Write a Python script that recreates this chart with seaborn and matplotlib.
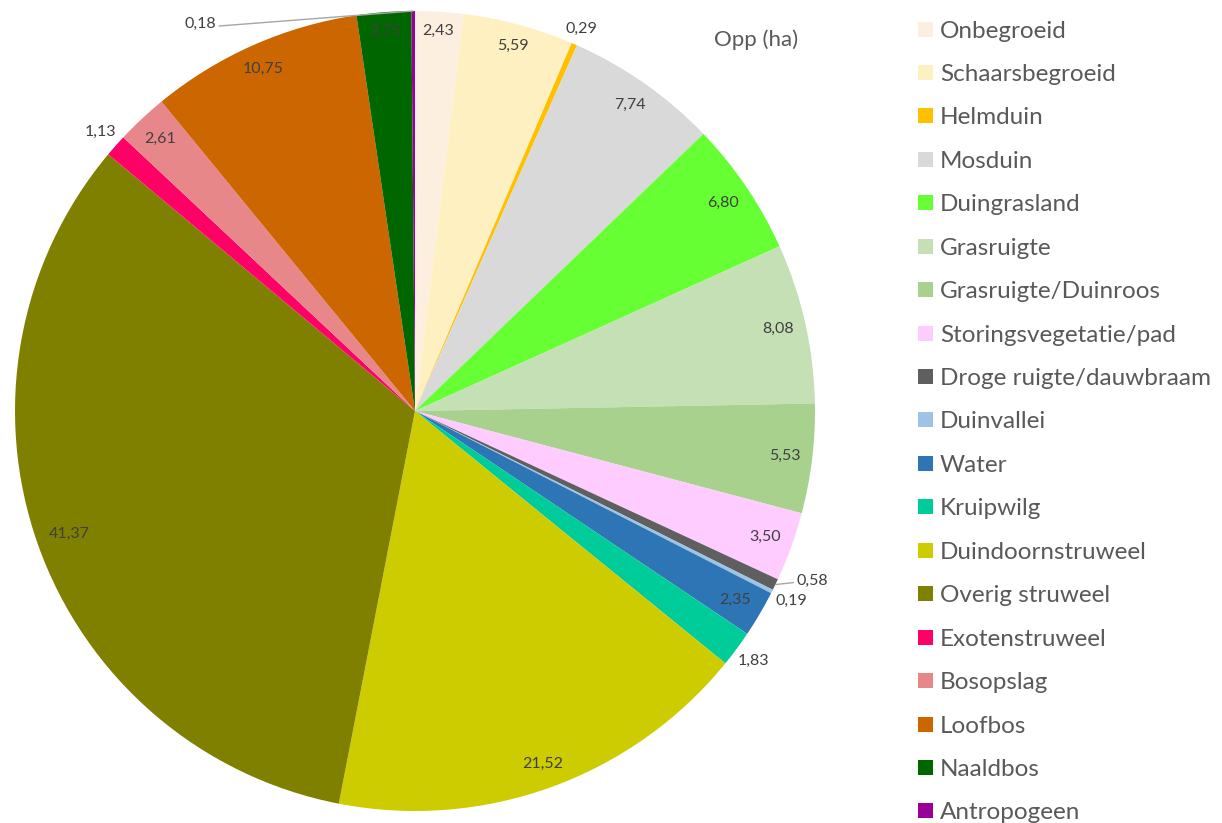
import numpy as np
import matplotlib
matplotlib.use("Agg")
import matplotlib.pyplot as plt
from matplotlib.patches import Rectangle
import seaborn as sns

# Oppervlakte per vegetatietype (ha)
categories = [
    "Onbegroeid", "Schaarsbegroeid", "Helmduin", "Mosduin", "Duingrasland",
    "Grasruigte", "Grasruigte/Duinroos", "Storingsvegetatie/pad",
    "Droge ruigte/dauwbraam", "Duinvallei", "Water", "Kruipwilg",
    "Duindoornstruweel", "Overig struweel", "Exotenstruweel", "Bosopslag",
    "Loofbos", "Naaldbos", "Antropogeen",
]
values = [2.43, 5.59, 0.29, 7.74, 6.80, 8.08, 5.53, 3.50, 0.58, 0.19,
          2.35, 1.83, 21.52, 41.37, 1.13, 2.61, 10.75, 2.75, 0.18]
colors = ["#FDEFE0", "#FFF0C1", "#FFC000", "#D9D9D9", "#66FF33",
          "#C5E0B4", "#A9D18E", "#FFCCFF", "#5F5F5F", "#9DC3E6",
          "#2E75B6", "#00CC99", "#CCCC00", "#808000", "#FF0066",
          "#E8878A", "#CC6600", "#006600", "#990099"]
title = "Opp (ha)"

labels = [f"{v:.2f}".replace(".", ",") for v in values]

sns.set_theme(style="white")
plt.rcParams["font.family"] = ["Lato", "DejaVu Sans"]

W, H = 1222, 823
CX, CY, R = 415, H - 411, 400
LABEL_COLOR = "#404040"
LEGEND_COLOR = "#595959"
LEADER_COLOR = "#A6A6A6"

fig = plt.figure(figsize=(W / 100, H / 100), dpi=100)
ax = fig.add_axes([0, 0, 1, 1])
palette = sns.color_palette(colors)
wedges, _ = ax.pie(values, colors=palette, startangle=90, counterclock=False,
                   center=(CX, CY), radius=R,
                   wedgeprops=dict(linewidth=0))
ax.set_xlim(0, W)
ax.set_ylim(0, H)
ax.set_aspect("equal")
ax.axis("off")

renderer = fig.canvas.get_renderer()

# labels moved away from crowded spots, joined to their slice by a leader line
leader_shift = {8: (37, 4), 18: (-213, -13)}

for i, (w, lab) in enumerate(zip(wedges, labels)):
    ang = np.deg2rad((w.theta1 + w.theta2) / 2)
    ux, uy = np.cos(ang), np.sin(ang)
    t = ax.text(0, 0, lab, ha="center", va="center", fontsize=11.5,
                color=LABEL_COLOR)
    bb = t.get_window_extent(renderer)
    hw, hh = bb.width / 2, bb.height / 2
    ext = hw * abs(ux) + hh * abs(uy)
    if i in leader_shift:
        ex, ey = CX + R * ux, CY + R * uy
        dx, dy = leader_shift[i]
        tx, ty = ex + dx, ey + dy
        t.set_position((tx, ty))
        side = np.sign(dx)
        ax.plot([ex, tx - side * (hw + 3)], [ey, ty - 2],
                color=LEADER_COLOR, lw=1.0)
    elif values[i] >= 2:
        r = R - ext - 11
        t.set_position((CX + r * ux, CY + r * uy))
    else:
        r = R + ext + 4
        t.set_position((CX + r * ux, CY + r * uy))

ax.text(756, H - 40, title, ha="center", va="center", fontsize=16,
        color=LEGEND_COLOR)

# legend column on the right
row0, step = 29, 43.44
for i, (name, col) in enumerate(zip(categories, palette)):
    yc = H - (row0 + i * step)
    ax.add_patch(Rectangle((918, yc - 7.5), 15, 15, facecolor=col,
                           edgecolor="none"))
    ax.text(940, yc, name, ha="left", va="center_baseline", fontsize=17.5,
            color=LEGEND_COLOR)

fig.savefig("out.png", dpi=100, facecolor="white")
